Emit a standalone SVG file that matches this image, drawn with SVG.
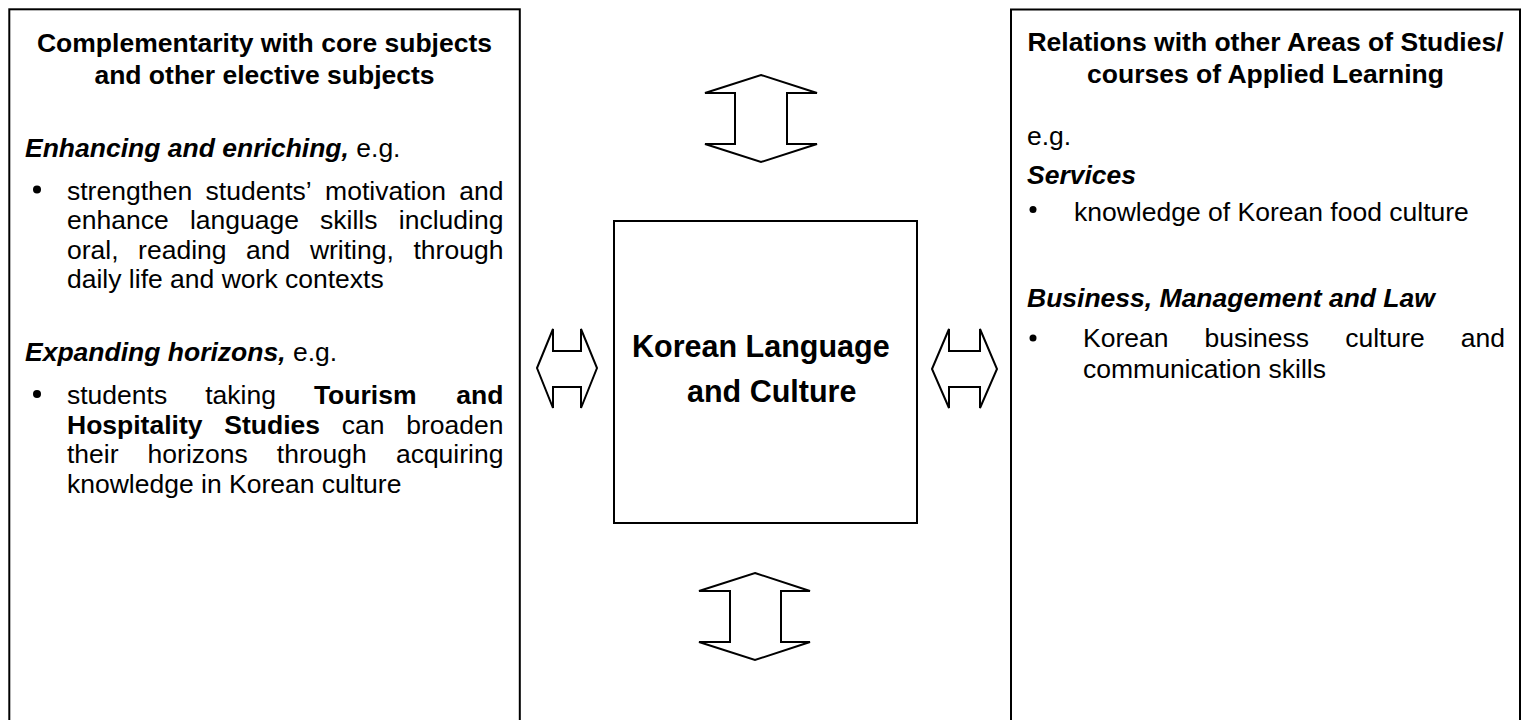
<svg xmlns="http://www.w3.org/2000/svg" width="1523" height="720" viewBox="0 0 1523 720">
<style>
.t { font-family: "Liberation Sans", Arial, sans-serif; font-size: 26.5px; fill: #000; }
.b { font-weight: bold; }
.bi { font-weight: bold; font-style: italic; }
.big { font-family: "Liberation Sans", Arial, sans-serif; font-size: 30.5px; font-weight: bold; fill: #000; }
.box { fill: #fff; stroke: #000; stroke-width: 2; }
.arr { fill: #fff; stroke: #000; stroke-width: 2; stroke-linejoin: miter; }
.dot { fill: #000; }
</style>
<rect width="1523" height="720" fill="#fff"/>

<g id="left-box">
  <rect class="box" x="9.3" y="9.3" width="510.5" height="800"/>
  <text class="t b" text-anchor="middle" x="264.5" y="51.5">Complementarity with core subjects</text>
  <text class="t b" text-anchor="middle" x="264.5" y="83.5">and other elective subjects</text>
  <text class="t" x="25" y="156.5"><tspan class="bi">Enhancing and enriching,</tspan> e.g.</text>
  <circle class="dot" cx="37" cy="189.5" r="4"/>
  <text class="t" y="199.5"><tspan x="67">strengthen</tspan><tspan x="205.6">students’</tspan><tspan x="325.1">motivation</tspan><tspan x="459.2">and</tspan></text>
  <text class="t" y="229"><tspan x="67">enhance</tspan><tspan x="189.9">language</tspan><tspan x="320.1">skills</tspan><tspan x="398.8">including</tspan></text>
  <text class="t" y="258.5"><tspan x="67">oral,</tspan><tspan x="138.1">reading</tspan><tspan x="246.1">and</tspan><tspan x="309.9">writing,</tspan><tspan x="413.5">through</tspan></text>
  <text class="t" x="67" y="288">daily life and work contexts</text>
  <text class="t" x="25" y="361"><tspan class="bi">Expanding horizons,</tspan> e.g.</text>
  <circle class="dot" cx="37" cy="394" r="4"/>
  <text class="t" y="404"><tspan x="67">students</tspan><tspan x="205.2">taking</tspan><tspan class="b" x="313.9">Tourism</tspan><tspan class="b" x="456.3">and</tspan></text>
  <text class="t" y="433.5"><tspan class="b" x="67">Hospitality</tspan><tspan class="b" x="224.3">Studies</tspan><tspan x="341.8">can</tspan><tspan x="406.2">broaden</tspan></text>
  <text class="t" y="463"><tspan x="67">their</tspan><tspan x="147.6">horizons</tspan><tspan x="276.8">through</tspan><tspan x="395.9">acquiring</tspan></text>
  <text class="t" x="67" y="492.5">knowledge in Korean culture</text>
</g>

<g id="center-box">
  <rect class="box" x="614" y="221" width="303" height="302"/>
  <text class="big" x="632" y="357">Korean Language</text>
  <text class="big" x="687" y="402">and Culture</text>
</g>

<g id="right-box">
  <rect class="box" x="1011" y="9.5" width="509" height="800"/>
  <text class="t b" text-anchor="middle" x="1265.5" y="51">Relations with other Areas of Studies/</text>
  <text class="t b" text-anchor="middle" x="1265.5" y="83">courses of Applied Learning</text>
  <text class="t" x="1027" y="145">e.g.</text>
  <text class="t bi" x="1027" y="184.3">Services</text>
  <circle class="dot" cx="1033" cy="209.5" r="3.5"/>
  <text class="t" x="1074" y="220.7">knowledge of Korean food culture</text>
  <text class="t bi" x="1027" y="306.7">Business, Management and Law</text>
  <circle class="dot" cx="1033" cy="338" r="3.5"/>
  <text class="t" y="346.7"><tspan x="1083">Korean</tspan><tspan x="1204.5">business</tspan><tspan x="1345.2">culture</tspan><tspan x="1460.8">and</tspan></text>
  <text class="t" x="1083" y="378.3">communication skills</text>
</g>

<g id="connectors">
  <polygon id="arrow-top" class="arr" points="761,75 817,93 787,93 787,144 817,144 761,162 705,144 735,144 735,93 705,93"/>
  <polygon id="arrow-bottom" class="arr" points="755,573 810,591 781,591 781,642 810,642 755,660 699,642 730,642 730,591 699,591"/>
  <polygon id="arrow-left" class="arr" points="537,368 553,329 553,351 581,351 581,329 597,368 581,408 581,387 553,387 553,408"/>
  <polygon id="arrow-right" class="arr" points="932,369 949,329 949,351 980,351 980,329 997,369 980,408 980,387 949,387 949,408"/>
</g>
</svg>
